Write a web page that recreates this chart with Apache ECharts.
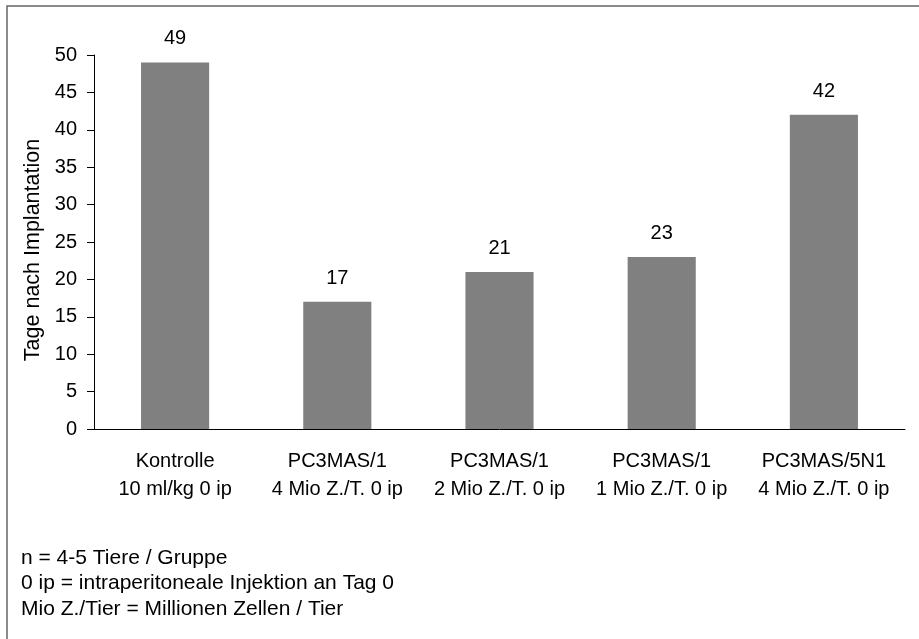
<!DOCTYPE html>
<html><head><meta charset="utf-8">
<script src="https://cdn.jsdelivr.net/npm/echarts@6/dist/echarts.min.js"></script>
<style>html,body{margin:0;padding:0;background:#fff}#c{width:919px;height:639px}</style>
</head><body><div id="c"></div>
<script>
const categories = [
  "Kontrolle\n10 ml/kg 0 ip",
  "PC3MAS/1\n4 Mio Z./T. 0 ip",
  "PC3MAS/1\n2 Mio Z./T. 0 ip",
  "PC3MAS/1\n1 Mio Z./T. 0 ip",
  "PC3MAS/5N1\n4 Mio Z./T. 0 ip"
];
const values = [49, 17, 21, 23, 42];
const yAxisTitle = "Tage nach Implantation";
const footnotes = [
  "n = 4-5 Tiere / Gruppe",
  "0 ip = intraperitoneale Injektion an Tag 0",
  "Mio Z./Tier = Millionen Zellen / Tier"
];
const FONT = "'Liberation Sans', Arial, sans-serif";
const FS = 20;
const chart = echarts.init(document.getElementById('c'), null, {renderer: 'canvas'});
chart.setOption({
  animation: false,
  backgroundColor: '#fff',
  textStyle: {fontFamily: FONT},
  grid: {left: 94, right: 14, top: 55, bottom: 210},
  xAxis: {
    type: 'category', data: categories,
    axisLine: {lineStyle: {color: '#000', width: 1}},
    axisTick: {show: false},
    axisLabel: {color: '#000', fontSize: FS, fontFamily: FONT, margin: 18, lineHeight: 28, interval: 0}
  },
  yAxis: {
    type: 'value', min: 0, max: 50, interval: 5,
    name: yAxisTitle, nameLocation: 'middle', nameGap: 50,
    nameTextStyle: {color: '#000', fontSize: 21.5, fontFamily: FONT, padding: [0, 16, 0, 0]},
    axisLine: {show: true, lineStyle: {color: '#000', width: 1}},
    axisTick: {show: true, length: 7, lineStyle: {color: '#000'}},
    axisLabel: {color: '#000', fontSize: FS, fontFamily: FONT, margin: 17},
    splitLine: {show: false}
  },
  series: [{
    type: 'bar', data: values, barWidth: '42%',
    itemStyle: {color: '#808080'},
    label: {show: true, position: 'top', distance: 13.5, color: '#000', fontSize: FS, fontFamily: FONT}
  }],
  graphic: [
    {type: 'rect', shape: {x: 7, y: 6, width: 940, height: 660}, style: {fill: null, stroke: '#666', lineWidth: 1.5}, silent: true},
    {type: 'text', left: 21, top: 545, style: {text: footnotes.join('\n'), font: '21px ' + FONT, fill: '#000', lineHeight: 25.5}}
  ]
});
</script></body></html>
